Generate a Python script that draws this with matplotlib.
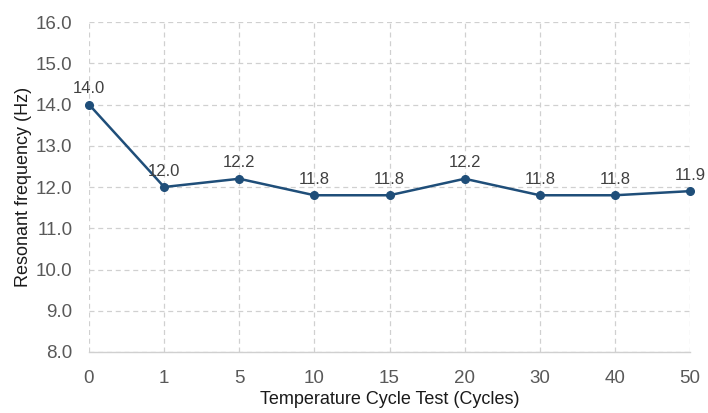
import matplotlib
matplotlib.use("Agg")
import matplotlib.pyplot as plt

cycles = ["0", "1", "5", "10", "15", "20", "30", "40", "50"]
freq = [14.0, 12.0, 12.2, 11.8, 11.8, 12.2, 11.8, 11.8, 11.9]
yticks = [8, 9, 10, 11, 12, 13, 14, 15, 16]

plt.rcParams['font.family'] = ['Liberation Sans', 'DejaVu Sans']

fig = plt.figure(figsize=(7.08, 4.13), dpi=100)
ax = fig.add_axes([0.1257, 0.1477, 0.849, 0.799])

x = list(range(len(cycles)))
line_color = '#1f4e79'
ax.plot(x, freq, color=line_color, linewidth=1.8, marker='o', markersize=5.5, zorder=3, clip_on=False)

for xi, v in zip(x, freq):
    ax.annotate(f"{v:.1f}", (xi, v), xytext=(0, 6), textcoords='offset points',
                ha='center', va='bottom', fontsize=12, color='#404040')

ax.set_xlim(0, len(cycles) - 1)
ax.set_ylim(8, 16)
ax.set_xticks(x)
ax.set_xticklabels(cycles)
ax.set_yticks(yticks)
ax.set_yticklabels([f"{t:.1f}" for t in yticks])

ax.grid(True, linestyle=(0, (4, 3)), color='#d0d0d0', linewidth=0.9, zorder=0)
for s in ['left', 'top', 'right']:
    ax.spines[s].set_visible(False)
ax.spines['bottom'].set_color('#d0d0d0')
ax.spines['bottom'].set_linewidth(1.0)

ax.tick_params(axis='both', length=0, labelsize=13.5, labelcolor='#595959')
ax.tick_params(axis='x', pad=13)
ax.tick_params(axis='y', pad=12)
ax.set_xlabel('Temperature Cycle Test (Cycles)', fontsize=13, color='#1a1a1a', labelpad=3)
ax.set_ylabel('Resonant frequency (Hz)', fontsize=13, color='#1a1a1a', labelpad=3)

fig.savefig("out.png", dpi=100)
